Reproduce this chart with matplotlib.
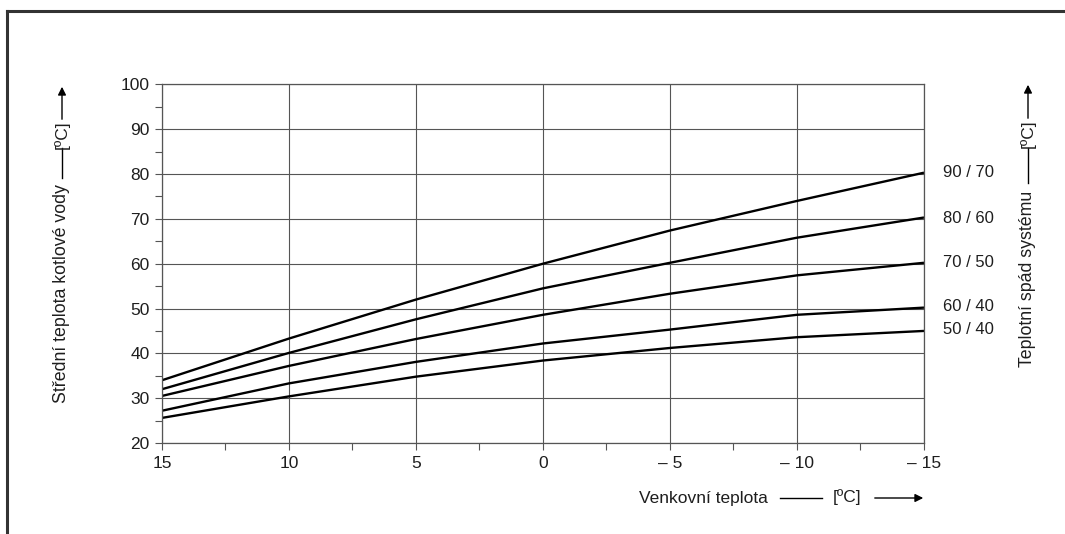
import matplotlib
matplotlib.use("Agg")
import matplotlib.pyplot as plt
from matplotlib.lines import Line2D

plt.rcParams['font.family'] = ['Liberation Sans', 'DejaVu Sans']

# venkovni teplota [°C]
outdoor = [15, 10, 5, 0, -5, -10, -15]

# stredni teplota kotlove vody pro jednotlive teplotni spady
series = {
    "90 / 70": [34.0, 43.3, 52.0, 60.0, 67.4, 74.0, 80.3],
    "80 / 60": [32.0, 40.1, 47.6, 54.5, 60.2, 65.8, 70.3],
    "70 / 50": [30.5, 37.2, 43.2, 48.6, 53.3, 57.4, 60.2],
    "60 / 40": [27.2, 33.3, 38.1, 42.2, 45.3, 48.6, 50.2],
    "50 / 40": [25.6, 30.4, 34.8, 38.4, 41.2, 43.6, 45.0],
}
label_y = {"90 / 70": 80.4, "80 / 60": 70.1, "70 / 50": 60.3,
           "60 / 40": 50.5, "50 / 40": 45.3}

x_ticks = [15, 10, 5, 0, -5, -10, -15]
x_ticklabels = ["15", "10", "5", "0", "\u2013 5", "\u2013 10", "\u2013 15"]
y_ticks = [20, 30, 40, 50, 60, 70, 80, 90, 100]

txt = "#1e1e1e"

fig = plt.figure(figsize=(10.65, 5.34), dpi=100)
ax = fig.add_axes([0.1521, 0.1704, 0.7155, 0.6716])

for name, vals in series.items():
    ax.plot(outdoor, vals, color="black", lw=1.7, solid_capstyle="butt")
    ax.text(1.025, (label_y[name] - 20) / 80, name, transform=ax.transAxes,
            fontsize=12, va="center", ha="left", color=txt)

ax.set_xlim(15, -15)
ax.set_ylim(20, 100)
ax.set_xticks(x_ticks)
ax.set_xticklabels(x_ticklabels)
ax.set_xticks([12.5, 7.5, 2.5, -2.5, -7.5, -12.5], minor=True)
ax.set_yticks(y_ticks)
ax.set_yticks([25, 35, 45, 55, 65, 75, 85, 95], minor=True)
ax.grid(True, which="major", color="#555555", lw=0.8)
for s in ax.spines.values():
    s.set_color("#555555")
    s.set_linewidth(0.9)
ax.tick_params(which="both", direction="out", color="#555555", width=0.8,
               labelsize=12.5, labelcolor=txt)
ax.tick_params(which="major", length=5, pad=4)
ax.tick_params(which="minor", length=5)

# ramecek
fig.add_artist(Line2D([7 / 1065, 1.0], [1 - 11 / 534, 1 - 11 / 534],
                      color="#333333", lw=2.2, transform=fig.transFigure))
fig.add_artist(Line2D([7 / 1065, 7 / 1065], [0.0, 1 - 11 / 534],
                      color="#333333", lw=2.2, transform=fig.transFigure))

def fx(px):
    return px / 1065

def fy(py):
    return 1 - py / 534

arrow = dict(arrowstyle="-|>", color="black", lw=1.0, mutation_scale=12)

# leva osa
fig.text(fx(62), fy(294), "Střední teplota kotlové vody", rotation=90,
         ha="center", va="center", fontsize=12.8, color=txt)
fig.add_artist(Line2D([fx(62), fx(62)], [fy(178), fy(148)], color="black",
                      lw=1.0, transform=fig.transFigure))
fig.text(fx(62), fy(135), "[ºC]", rotation=90, ha="center", va="center",
         fontsize=12.5, color=txt)
ax.annotate("", xy=(fx(62), fy(84)), xytext=(fx(62), fy(122)),
            xycoords="figure fraction", textcoords="figure fraction",
            arrowprops=arrow)

# prava osa
fig.text(fx(1028), fy(279), "Teplotní spád systému", rotation=90,
         ha="center", va="center", fontsize=12.8, color=txt)
fig.add_artist(Line2D([fx(1028), fx(1028)], [fy(183), fy(148)], color="black",
                      lw=1.0, transform=fig.transFigure))
fig.text(fx(1028), fy(134), "[ºC]", rotation=90, ha="center", va="center",
         fontsize=12.5, color=txt)
ax.annotate("", xy=(fx(1028), fy(82)), xytext=(fx(1028), fy(121)),
            xycoords="figure fraction", textcoords="figure fraction",
            arrowprops=arrow)

# osa x
fig.text(fx(768), fy(498), "Venkovní teplota", ha="right", va="center",
         fontsize=12.5, color=txt)
fig.add_artist(Line2D([fx(780), fx(822)], [fy(498), fy(498)], color="black",
                      lw=1.0, transform=fig.transFigure))
fig.text(fx(847), fy(497), "[ºC]", ha="center", va="center",
         fontsize=12.5, color=txt)
ax.annotate("", xy=(fx(926), fy(498)), xytext=(fx(872), fy(498)),
            xycoords="figure fraction", textcoords="figure fraction",
            arrowprops=arrow)

fig.savefig("out.png", dpi=100)
